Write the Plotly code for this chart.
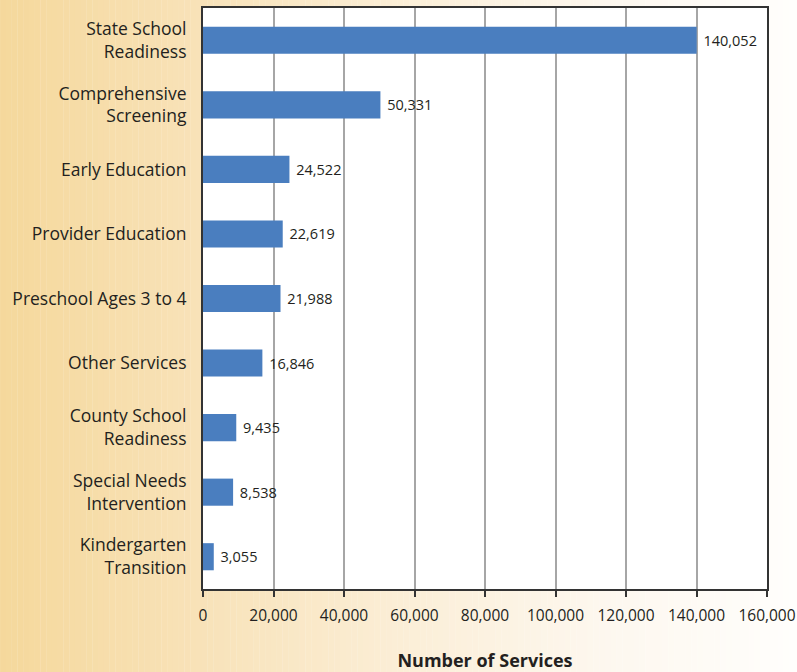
import plotly.graph_objects as go

# Service categories (top to bottom) and their counts
categories = [
    "State School<br>Readiness",
    "Comprehensive<br>Screening",
    "Early Education",
    "Provider Education",
    "Preschool Ages 3 to 4",
    "Other Services",
    "County School<br>Readiness",
    "Special Needs<br>Intervention",
    "Kindergarten<br>Transition",
]
services = [140052, 50331, 24522, 22619, 21988, 16846, 9435, 8538, 3055]
x_ticks = [0, 20000, 40000, 60000, 80000, 100000, 120000, 140000, 160000]

FONT = "Open Sans"
TEXT = "#231f20"

fig = go.Figure(
    go.Bar(
        y=categories,
        x=services,
        orientation="h",
        marker=dict(color="#4a7ebf", line=dict(width=0)),
        width=0.42,
        text=[" " + f"{v:,}" for v in services],
        textposition="outside",
        textfont=dict(family=FONT, size=14.5, color=TEXT),
        cliponaxis=False,
    )
)

# Warm left-to-right background wash made of thin strips
stops = [(0.0, (245, 216, 155)), (0.25, (248, 226, 184)), (0.5, (251, 238, 214)),
         (0.75, (253, 247, 238)), (1.0, (255, 254, 252))]


def lerp_color(t):
    for (t0, c0), (t1, c1) in zip(stops, stops[1:]):
        if t0 <= t <= t1:
            f = (t - t0) / (t1 - t0)
            return "rgb(%d,%d,%d)" % tuple(round(a + (b - a) * f) for a, b in zip(c0, c1))
    return "rgb(%d,%d,%d)" % stops[-1][1]


left, right = -0.37, 1.06
n = 140
step = (right - left) / n
shapes = []
for i in range(n):
    shapes.append(dict(type="rect", xref="paper", yref="paper", layer="below",
                       x0=left + i * step, x1=left + (i + 1.05) * step,
                       y0=-0.16, y1=1.02, line=dict(width=0),
                       fillcolor=lerp_color(i / (n - 1))))
# white plotting panel on top of the wash
shapes.append(dict(type="rect", xref="paper", yref="paper", layer="below",
                   x0=0, x1=1, y0=0, y1=1, line=dict(width=0), fillcolor="white"))

fig.update_layout(
    width=797,
    height=672,
    margin=dict(l=203, r=30, t=8, b=83, autoexpand=False),
    paper_bgcolor="rgba(0,0,0,0)",
    plot_bgcolor="white",
    shapes=shapes,
    showlegend=False,
    font=dict(family=FONT, color=TEXT),
)

fig.update_xaxes(
    range=[0, 160000],
    tickvals=x_ticks,
    ticktext=[f"{v:,}" for v in x_ticks],
    tickfont=dict(family=FONT, size=15.5, color=TEXT),
    ticks="outside",
    ticklen=6,
    tickwidth=1.5,
    tickcolor="#333333",
    showgrid=True,
    gridcolor="#a6a6a6",
    gridwidth=1.5,
    zeroline=False,
    showline=True,
    linecolor="#333333",
    linewidth=2,
    mirror=True,
    automargin=False,
    ticklabelstandoff=5,
    title=dict(text="<b>Number of Services</b>",
               font=dict(family=FONT, size=18, color=TEXT), standoff=36),
)

fig.update_yaxes(
    categoryorder="array",
    categoryarray=categories[::-1],
    range=[-0.5, 8.5],
    tickfont=dict(family=FONT, size=17.5, color=TEXT),
    ticks="",
    showgrid=False,
    showline=True,
    linecolor="#333333",
    linewidth=2,
    mirror=True,
    automargin=False,
    ticklabelstandoff=11,
)

fig.write_html("out.html")
